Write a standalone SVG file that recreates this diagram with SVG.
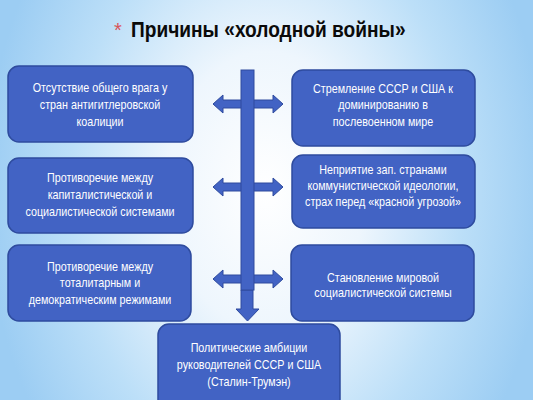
<svg xmlns="http://www.w3.org/2000/svg" width="533" height="400" viewBox="0 0 533 400">
<defs>
<radialGradient id="bg" cx="266" cy="190" r="330" gradientUnits="userSpaceOnUse" gradientTransform="translate(266 190) scale(0.85 1.2) translate(-266 -190)">
<stop offset="0" stop-color="#ffffff"/>
<stop offset="0.35" stop-color="#eef6fd"/>
<stop offset="0.7" stop-color="#bcdff8"/>
<stop offset="1" stop-color="#9ccdf3"/>
</radialGradient>
<style>
.box{fill:#4263c4;stroke:#2e4b9e;stroke-width:1.5}
.t{fill:#ffffff;font-family:"Liberation Sans",Arial,sans-serif;font-size:12.5px;text-anchor:middle}
.arr{fill:#4263c4;stroke:#2e4b9e;stroke-width:1}
</style>
</defs>
<rect width="533" height="400" fill="url(#bg)"/>
<g id="title">
<text x="114" y="37" fill="#d9545a" font-family="Liberation Sans,sans-serif" font-size="20">*</text>
<text transform="translate(131 37) scale(0.87 1)" x="0" y="0" fill="#0a0a0a" font-family="'Liberation Sans',Arial,sans-serif" font-weight="bold" font-size="22">Причины «холодной войны»</text>
</g>
<g id="connectors">
<polygon class="arr" points="213,104 223,95 223,100 273,100 273,95 283,104 273,113 273,108 223,108 223,113"/>
<polygon class="arr" points="213,187 223,178 223,183 273,183 273,178 283,187 273,196 273,191 223,191 223,196"/>
<polygon class="arr" points="213,279 223,270 223,275 273,275 273,270 283,279 273,288 273,283 223,283 223,288"/>
<polygon class="arr" points="241,290 253,290 253,309 259,309 247.5,321 236,309 241,309"/>
<rect class="arr" x="241" y="70" width="13" height="220"/>
</g>
<g id="n1">
<rect class="box" x="8" y="66" width="185" height="76" rx="11"/>
<g transform="translate(100 0) scale(0.86 1)">
<text class="t" x="0" y="92">Отсутствие общего врага у</text>
<text class="t" x="0" y="109">стран антигитлеровской</text>
<text class="t" x="0" y="126">коалиции</text>
</g>
</g>
<g id="n2">
<rect class="box" x="8" y="158" width="185" height="75" rx="11"/>
<g transform="translate(100 0) scale(0.86 1)">
<text class="t" x="0" y="182">Противоречие между</text>
<text class="t" x="0" y="199">капиталистической и</text>
<text class="t" x="0" y="216">социалистической системами</text>
</g>
</g>
<g id="n3">
<rect class="box" x="8" y="245" width="183" height="76" rx="11"/>
<g transform="translate(100 0) scale(0.86 1)">
<text class="t" x="0" y="271">Противоречие между</text>
<text class="t" x="0" y="287">тоталитарным и</text>
<text class="t" x="0" y="304">демократическим режимами</text>
</g>
</g>
<g id="n4">
<rect class="box" x="292" y="70" width="183" height="76" rx="11"/>
<g transform="translate(383 0) scale(0.86 1)">
<text class="t" x="0" y="93">Стремление СССР и США к</text>
<text class="t" x="0" y="109">доминированию в</text>
<text class="t" x="0" y="126">послевоенном мире</text>
</g>
</g>
<g id="n5">
<rect class="box" x="292" y="155" width="183" height="73" rx="11"/>
<g transform="translate(383 0) scale(0.86 1)">
<text class="t" x="0" y="174">Неприятие зап. странами</text>
<text class="t" x="0" y="190">коммунистической идеологии,</text>
<text class="t" x="0" y="206">страх перед «красной угрозой»</text>
</g>
</g>
<g id="n6">
<rect class="box" x="291" y="245" width="183" height="76" rx="11"/>
<g transform="translate(383 0) scale(0.86 1)">
<text class="t" x="0" y="282">Становление мировой</text>
<text class="t" x="0" y="297">социалистической системы</text>
</g>
</g>
<g id="n7">
<rect class="box" x="158" y="324" width="182" height="86" rx="11"/>
<g transform="translate(249 0) scale(0.86 1)">
<text class="t" x="0" y="352">Политические амбиции</text>
<text class="t" x="0" y="369">руководителей СССР и США</text>
<text class="t" x="0" y="386">(Сталин-Трумэн)</text>
</g>
</g>
</svg>
